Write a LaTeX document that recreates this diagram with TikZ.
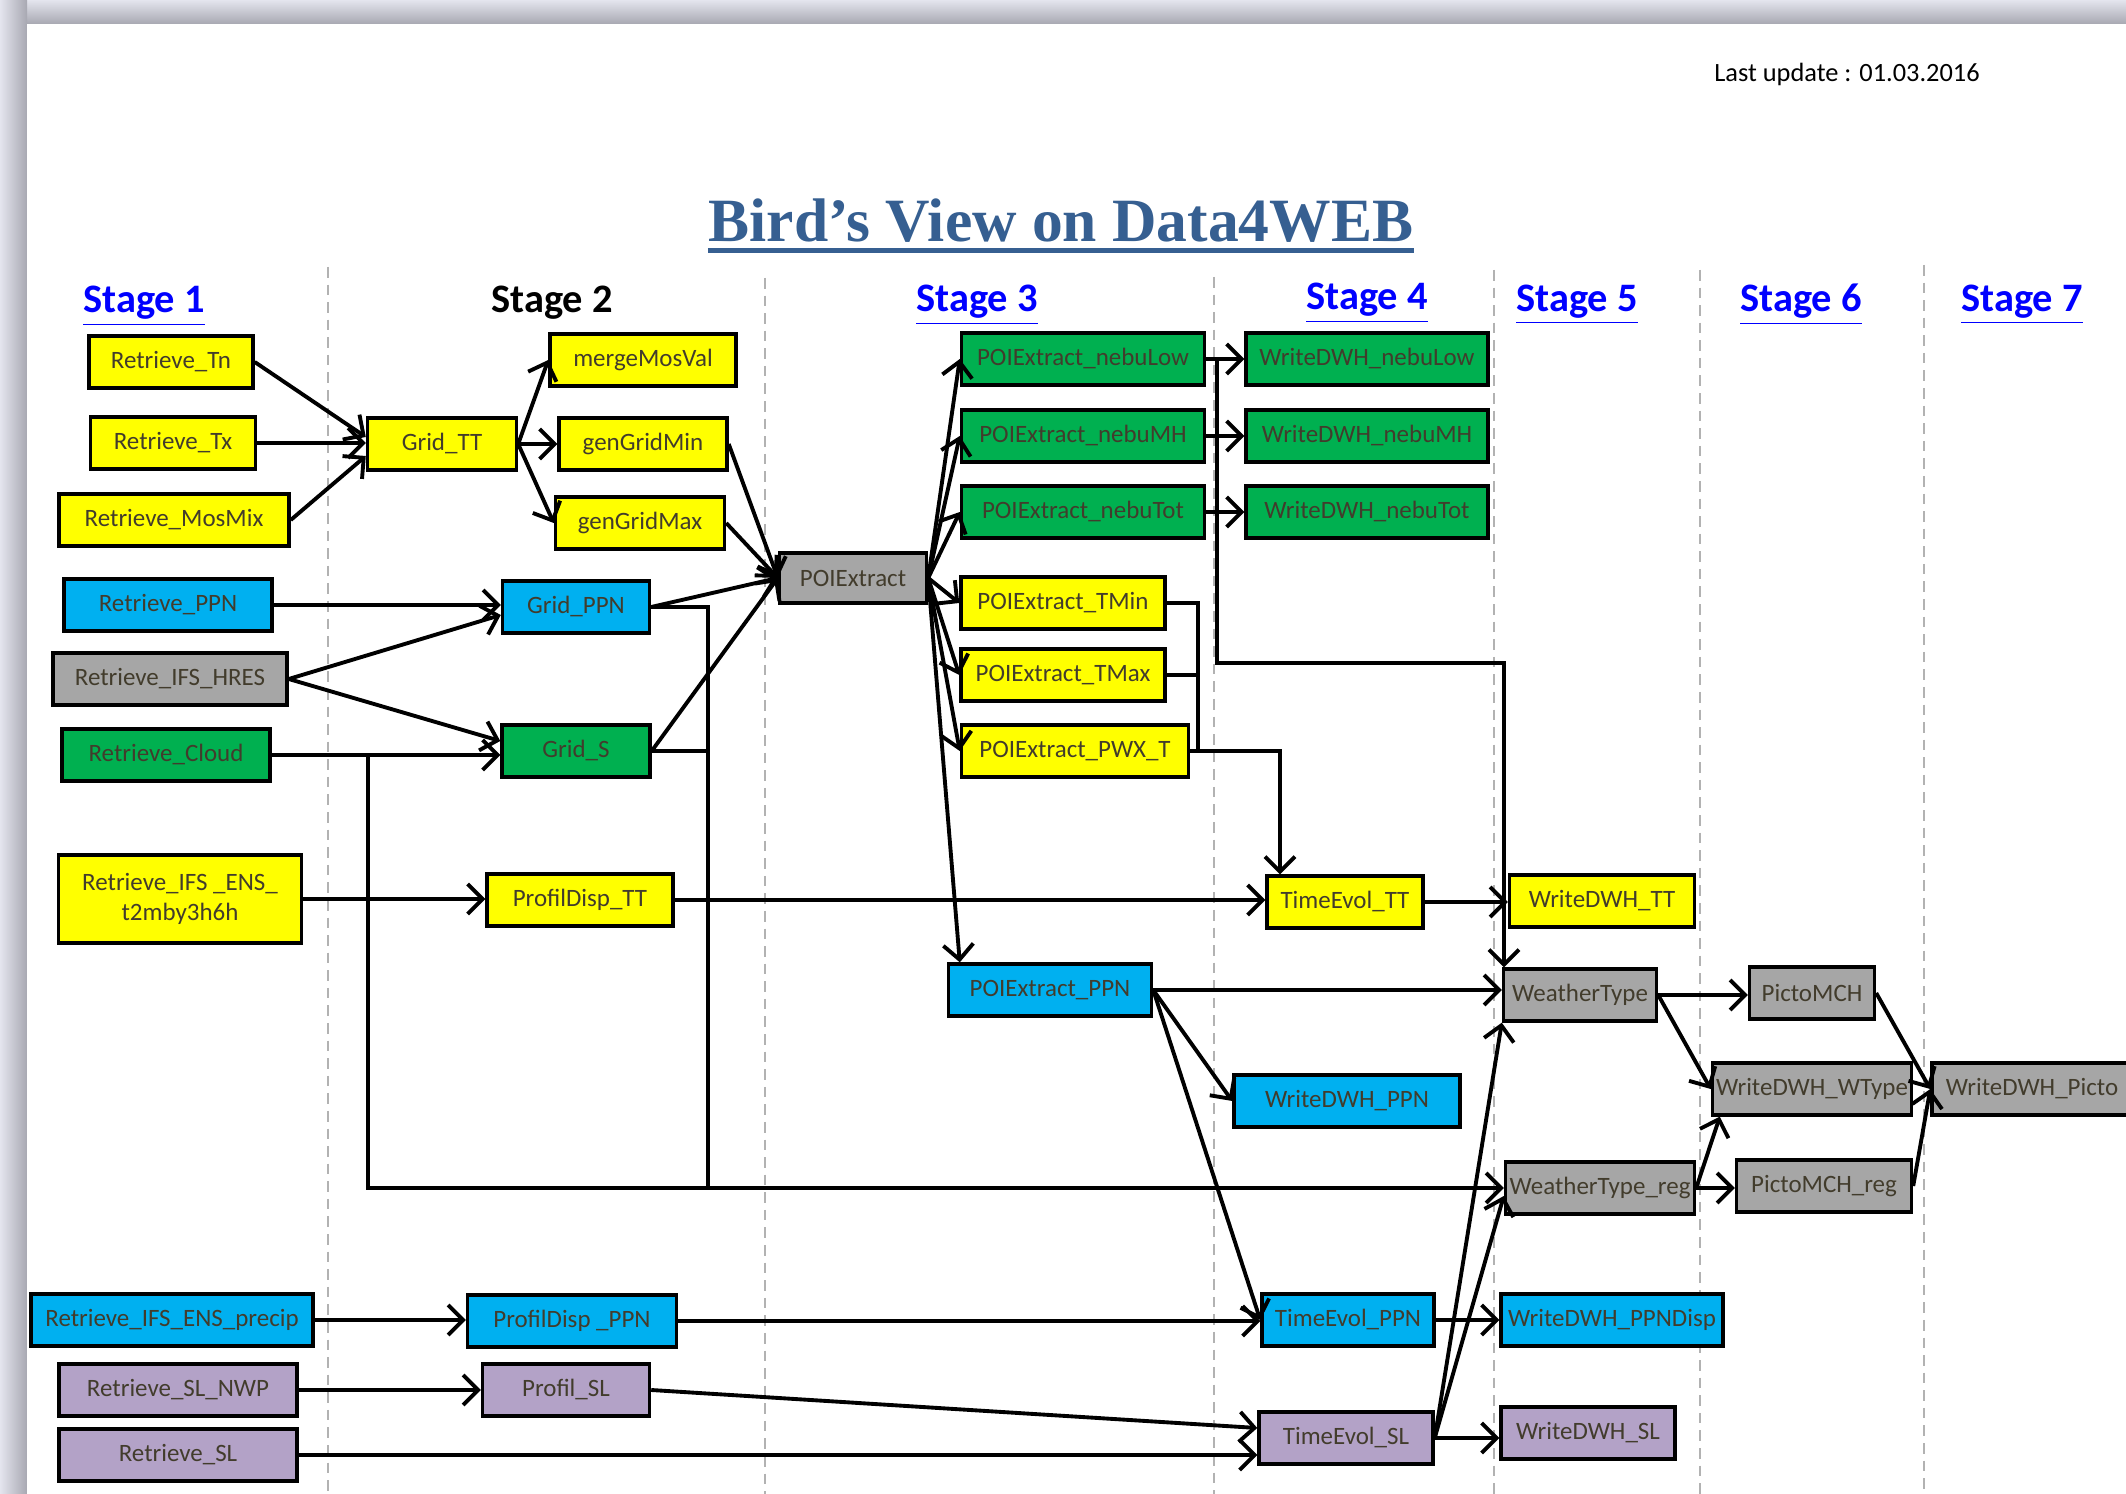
\documentclass[tikz,border=0pt]{standalone}
\usepackage{fontspec}
\setmainfont{Carlito}
\newfontfamily\titlefont{Liberation Serif}
\usetikzlibrary{arrows.meta}
\definecolor{procyellow}{HTML}{FFFF00}
\definecolor{procblue}{HTML}{00B0F0}
\definecolor{procgreen}{HTML}{00B050}
\definecolor{procgrey}{HTML}{A6A6A6}
\definecolor{proclilac}{HTML}{B3A2C7}
\definecolor{boxtext}{RGB}{66,60,44}
\definecolor{stageblue}{HTML}{0000FF}
\definecolor{titleblue}{HTML}{365F91}
\definecolor{frameA}{RGB}{228,229,238}
\definecolor{frameB}{RGB}{168,168,178}

\begin{document}
\begin{tikzpicture}[x=0.01cm, y=-0.01cm,
  proc/.style={draw, line width=.95pt, minimum height=.52cm, inner sep=1pt, text=boxtext, font=\fontsize{7.1}{8.6}\selectfont},
  yel/.style={proc, fill=procyellow}, blu/.style={proc, fill=procblue}, grn/.style={proc, fill=procgreen},
  gry/.style={proc, fill=procgrey}, lil/.style={proc, fill=proclilac},
  arr/.style={line width=1.1pt, -{Straight Barb[length=1.5mm,width=3mm]}},
  link/.style={line width=1.1pt},
  stagehd/.style={anchor=base, inner sep=0, text=stageblue, font=\fontsize{11.5}{13}\selectfont\bfseries},
  sep/.style={draw=gray!60, line width=.45pt, dash pattern=on 3pt off 2pt}]
  \useasboundingbox (0,0) rectangle (2126,1494);
  % page on its grey frame
  \fill[frameA] (0,0) rectangle (2126,1494);
  \shade[top color=frameA, bottom color=frameB] (0,0) rectangle (2126,24);
  \shade[left color=frameA, right color=frameB] (0,0) rectangle (27,1494);
  \fill[white] (27,24) rectangle (2126,1494);

  \foreach \x/\t in {328/267, 765/278, 1214/277, 1494/270, 1700/270, 1924/265}
    \draw[sep] (\x,\t) -- (\x,1494);

  \node[anchor=base, inner sep=0, text=titleblue, font=\titlefont\bfseries\fontsize{17.5}{20}\selectfont] (title) at (1061,242) {Bird’s View on Data4WEB};
  \draw[titleblue, line width=1.3pt] ([yshift=-2.4pt]title.base west) -- ([yshift=-2.4pt]title.base east);
  \node[anchor=base, font=\fontsize{7.5}{9}\selectfont] (upd) at (1847,82) {Last update : 01.03.2016};

  \node[stagehd] (s1) at (144,313) {\underline{Stage 1}};
  \node[stagehd, text=black] (s2) at (552,313) {Stage 2};
  \node[stagehd] (s3) at (977,312) {\underline{Stage 3}};
  \node[stagehd] (s4) at (1367,310) {\underline{Stage 4}};
  \node[stagehd] (s5) at (1577,311) {\underline{Stage 5}};
  \node[stagehd] (s6) at (1801,312) {\underline{Stage 6}};
  \node[stagehd] (s7) at (2022,311) {\underline{Stage 7}};

  % stage 1
  \node[yel, minimum width=1.64cm] (rTn) at (171,362) {Retrieve\_Tn};
  \node[yel, minimum width=1.65cm] (rTx) at (173,443) {Retrieve\_Tx};
  \node[yel, minimum width=2.30cm] (rMos) at (174,520) {Retrieve\_MosMix};
  \node[blu, minimum width=2.08cm] (rPPN) at (168,605) {Retrieve\_PPN};
  \node[gry, minimum width=2.34cm] (rHRES) at (170,679) {Retrieve\_IFS\_HRES};
  \node[grn, minimum width=2.08cm] (rCloud) at (166,755) {Retrieve\_Cloud};
  \node[yel, minimum width=2.43cm, minimum height=.88cm, align=center] (rENS) at (180,899) {Retrieve\_IFS \_ENS\_\\t2mby3h6h};
  \node[blu, minimum width=2.82cm] (rPrecip) at (172,1320) {Retrieve\_IFS\_ENS\_precip};
  \node[lil, minimum width=2.38cm] (rSLNWP) at (178,1390) {Retrieve\_SL\_NWP};
  \node[lil, minimum width=2.38cm] (rSL) at (178,1455) {Retrieve\_SL};

  % stage 2
  \node[yel, minimum width=1.49cm] (gridTT) at (442,444) {Grid\_TT};
  \node[yel, minimum width=1.86cm] (merge) at (643,360) {mergeMosVal};
  \node[yel, minimum width=1.68cm] (genMin) at (643,444) {genGridMin};
  \node[yel, minimum width=1.69cm] (genMax) at (640,523) {genGridMax};
  \node[blu, minimum width=1.47cm] (gridPPN) at (576,607) {Grid\_PPN};
  \node[grn, minimum width=1.48cm] (gridS) at (576,751) {Grid\_S};
  \node[yel, minimum width=1.86cm] (profTT) at (580,900) {ProfilDisp\_TT};
  \node[blu, minimum width=2.09cm] (profPPN) at (572,1321) {ProfilDisp \_PPN};
  \node[lil, minimum width=1.67cm] (profSL) at (566,1390) {Profil\_SL};

  % stage 3
  \node[gry, minimum width=1.47cm, minimum height=.50cm] (poi) at (853,578) {POIExtract};
  \node[grn, minimum width=2.43cm] (nebuLow) at (1083,359) {POIExtract\_nebuLow};
  \node[grn, minimum width=2.43cm] (nebuMH) at (1083,436) {POIExtract\_nebuMH};
  \node[grn, minimum width=2.43cm] (nebuTot) at (1083,512) {POIExtract\_nebuTot};
  \node[yel, minimum width=2.04cm] (tmin) at (1063,603) {POIExtract\_TMin};
  \node[yel, minimum width=2.04cm] (tmax) at (1063,675) {POIExtract\_TMax};
  \node[yel, minimum width=2.27cm] (pwx) at (1075,751) {POIExtract\_PWX\_T};
  \node[blu, minimum width=2.03cm] (poiPPN) at (1050,990) {POIExtract\_PPN};

  % stage 4
  \node[grn, minimum width=2.42cm] (wLow) at (1367,359) {WriteDWH\_nebuLow};
  \node[grn, minimum width=2.42cm] (wMH) at (1367,436) {WriteDWH\_nebuMH};
  \node[grn, minimum width=2.42cm] (wTot) at (1367,512) {WriteDWH\_nebuTot};
  \node[yel, minimum width=1.56cm] (evTT) at (1345,902) {TimeEvol\_TT};
  \node[blu, minimum width=2.26cm] (wPPN) at (1347,1101) {WriteDWH\_PPN};
  \node[blu, minimum width=1.72cm] (evPPN) at (1348,1320) {TimeEvol\_PPN};
  \node[lil, minimum width=1.74cm] (evSL) at (1346,1438) {TimeEvol\_SL};

  % stage 5
  \node[yel, minimum width=1.85cm] (wTT) at (1602,901) {WriteDWH\_TT};
  \node[gry, minimum width=1.53cm] (wtype) at (1580,995) {WeatherType};
  \node[gry, minimum width=1.89cm] (wtypeReg) at (1600,1188) {WeatherType\_reg};
  \node[blu, minimum width=2.22cm] (wPPNDisp) at (1612,1320) {WriteDWH\_PPNDisp};
  \node[lil, minimum width=1.74cm] (wSL) at (1588,1433) {WriteDWH\_SL};

  % stage 6 and 7
  \node[gry, minimum width=1.25cm] (picto) at (1812,993) {PictoMCH};
  \node[gry, minimum width=1.99cm] (wWType) at (1812,1089) {WriteDWH\_WType};
  \node[gry, minimum width=1.75cm] (pictoReg) at (1824,1186) {PictoMCH\_reg};
  \node[gry, minimum width=2.00cm] (wPicto) at (2032,1089) {WriteDWH\_Picto};

  % straight flows
  \foreach \a/\b in {rPPN/gridPPN, rCloud/gridS, rENS/profTT, profTT/evTT, nebuLow/wLow, nebuMH/wMH, nebuTot/wTot, evTT/wTT, poiPPN/wtype, wtype/picto, wtypeReg/pictoReg, rPrecip/profPPN, profPPN/evPPN, rSLNWP/profSL, evPPN/wPPNDisp, evSL/wSL, rSL/evSL, rTx/gridTT}
    \draw[arr] (\a.east) -- (\a.east -| \b.west);
  % slanted flows
  \foreach \a/\b in {gridTT/merge, gridTT/genMin, gridTT/genMax, genMin/poi, genMax/poi, gridPPN/poi, gridS/poi, poi/nebuLow, poi/nebuMH, poi/nebuTot, poi/tmin, poi/tmax, poi/pwx, poiPPN/wPPN, poiPPN/evPPN, wtype/wWType, picto/wPicto, pictoReg/wPicto}
    \draw[arr] (\a.east) -- (\b.west);
  \draw[arr] (rTn.east) -- ([yshift=.07cm]gridTT.west);
  \draw[arr] (rMos.east) -- ([yshift=-.12cm]gridTT.west);
  \draw[arr] (rHRES.east) -- ([yshift=-.08cm]gridPPN.west);
  \draw[arr] (rHRES.east) -- ([yshift=.1cm]gridS.west);
  \draw[arr] (poi.east) -- ([xshift=.13cm]poiPPN.north west);
  \draw[arr] (profSL.east) -- ([yshift=.1cm]evSL.west);
  \draw[arr] (evSL.east) -- (wtype.south west);
  \draw[arr] (evSL.east) -- ([yshift=-.08cm]wtypeReg.west);
  \draw[arr] (wtypeReg.east) -- ([xshift=.09cm]wWType.south west);

  % routed flows
  \coordinate (bendW) at (1504,663);
  \draw[arr] (nebuLow.east) -- ++(11,0) |- (bendW) -- (bendW |- wtype.north);
  \coordinate (busT) at (1198,751);
  \draw[link] (tmin.east) -| (busT);
  \draw[link] (tmax.east) -- (tmax.east -| busT);
  \draw[arr] (pwx.east) -| ([xshift=-.65cm]evTT.north);
  \draw[arr] (rCloud.east) -- ++(96,0) |- (wtypeReg.west);
  \coordinate (jGrid) at (708,1188);
  \draw[link] (gridPPN.east) -| (jGrid);
  \draw[link] (gridS.east) -- (gridS.east -| jGrid);
\end{tikzpicture}
\end{document}
